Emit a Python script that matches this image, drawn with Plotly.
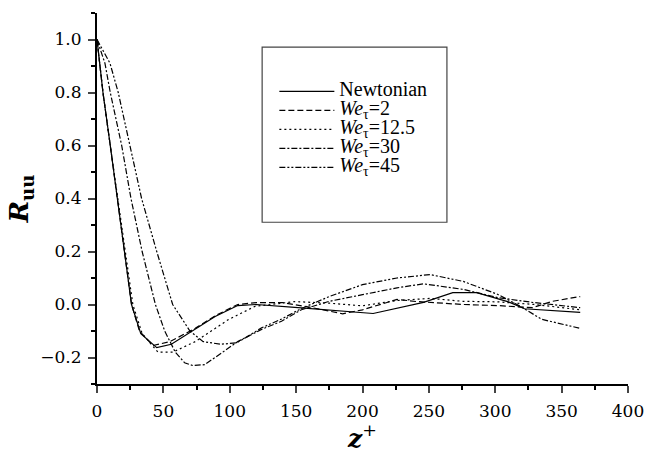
import plotly.graph_objects as go

# data
z_newt = [0, 4.5, 10, 15.5, 20.5, 26, 33, 45, 56, 74, 89, 106, 120, 149, 174, 208, 246, 268, 286, 310, 322, 364]
r_newt = [1.0, 0.8, 0.6, 0.4, 0.2, 0.0, -0.11, -0.163, -0.15, -0.094, -0.045, -0.004, 0.0, -0.011, -0.02, -0.034, 0.008, 0.045, 0.045, 0.01, -0.016, -0.03]

z_we2 = [0, 4.5, 10, 15.5, 20.5, 26, 32, 42, 55, 74, 90, 106, 120, 140, 160, 185, 200, 226, 241, 276, 302, 328, 343, 364]
r_we2 = [1.0, 0.8, 0.6, 0.4, 0.2, 0.0, -0.1, -0.155, -0.14, -0.09, -0.04, 0.0, 0.007, 0.007, -0.01, -0.035, -0.02, 0.019, 0.011, 0.0, -0.004, -0.012, 0.012, 0.03]

z_we12 = [0, 4.5, 10, 15.5, 21, 27, 34, 46, 57, 74, 99, 119, 149, 175, 200, 226, 251, 276, 302, 330, 364]
r_we12 = [1.0, 0.8, 0.6, 0.4, 0.2, 0.0, -0.11, -0.18, -0.18, -0.14, -0.057, -0.007, 0.011, 0.005, -0.005, 0.015, 0.023, 0.012, 0.01, 0.0, -0.02]

z_we30 = [0, 6, 10, 18.6, 25.6, 34, 44, 51, 59, 66, 72, 81, 89, 106, 124, 139, 154, 175, 200, 226, 246, 276, 302, 328, 364]
r_we30 = [1.0, 0.91, 0.8, 0.6, 0.4, 0.2, 0.0, -0.1, -0.18, -0.22, -0.23, -0.227, -0.2, -0.14, -0.094, -0.063, -0.02, 0.012, 0.037, 0.063, 0.078, 0.057, 0.026, 0.008, -0.012]

z_we45 = [0, 9.8, 16, 25, 33.6, 45, 57, 70, 80, 93, 105, 112, 124, 139, 154, 175, 200, 226, 251, 276, 302, 320, 335, 364]
r_we45 = [1.0, 0.91, 0.8, 0.6, 0.4, 0.2, 0.0, -0.1, -0.14, -0.15, -0.145, -0.125, -0.088, -0.055, -0.015, 0.03, 0.075, 0.10, 0.113, 0.087, 0.038, -0.01, -0.056, -0.09]

names = ["Newtonian", "<i>We</i><sub>τ</sub>=2", "<i>We</i><sub>τ</sub>=12.5",
         "<i>We</i><sub>τ</sub>=30", "<i>We</i><sub>τ</sub>=45"]
dashes = ["solid", "6px,3px", "2px,3px", "6px,2px,2px,2px", "6px,2px,2px,2px,2px,2px"]
series = [(z_newt, r_newt), (z_we2, r_we2), (z_we12, r_we12), (z_we30, r_we30), (z_we45, r_we45)]

fig = go.Figure()
for (zz, rr), nm, ds in zip(series, names, dashes):
    # big text in a small legend font keeps the rows tight like the original
    fig.add_trace(go.Scatter(x=zz, y=rr, mode="lines",
                             name='<span style="font-size:20px">' + nm + '</span>',
                             line=dict(color="black", width=1.2, dash=ds)))

tickfont = dict(family="DejaVu Serif", size=17, color="black")
fig.update_xaxes(range=[0, 400], tickvals=list(range(0, 401, 50)), ticks="outside",
                 ticklen=7, tickwidth=2, showline=True, linewidth=2, linecolor="black",
                 showgrid=False, zeroline=False, tickfont=tickfont, automargin=False,
                 ticklabelstandoff=4,
                 minor=dict(dtick=25, ticks="outside", ticklen=4, tickwidth=1.5, tickcolor="black"),
                 title=dict(text="<b><i>z</i></b><sup>+</sup>",
                            font=dict(family="DejaVu Serif", size=25, color="black"), standoff=0))
fig.update_yaxes(range=[-0.3, 1.1], tickvals=[-0.2, 0, 0.2, 0.4, 0.6, 0.8, 1.0], tickformat=".1f",
                 ticks="outside", ticklen=7, tickwidth=2, showline=True, linewidth=2,
                 linecolor="black", showgrid=False, zeroline=False, tickfont=tickfont,
                 automargin=False, ticklabelstandoff=3,
                 minor=dict(dtick=0.1, ticks="outside", ticklen=4, tickwidth=1.5, tickcolor="black"),
                 title=dict(text="<b><i>R</i></b><sub><b>uu</b></sub>",
                            font=dict(family="DejaVu Serif", size=26, color="black"), standoff=4))

# legend frame
fig.add_shape(type="rect", xref="paper", yref="paper", x0=0.311, x1=0.659, y0=0.436, y1=0.908,
              line=dict(color="#444", width=1.2), fillcolor="rgba(0,0,0,0)")

fig.update_layout(
    width=645, height=453, margin=dict(l=97, r=17, t=13, b=69),
    paper_bgcolor="white", plot_bgcolor="white",
    legend=dict(x=0.334, y=0.828, xanchor="left", yanchor="top", bgcolor="rgba(0,0,0,0)",
                borderwidth=0, itemwidth=55,
                font=dict(family="Liberation Serif", size=12, color="black")),
)

fig.write_html("out.html", config={"displayModeBar": False},
               post_script="document.body.style.margin='0px';")
